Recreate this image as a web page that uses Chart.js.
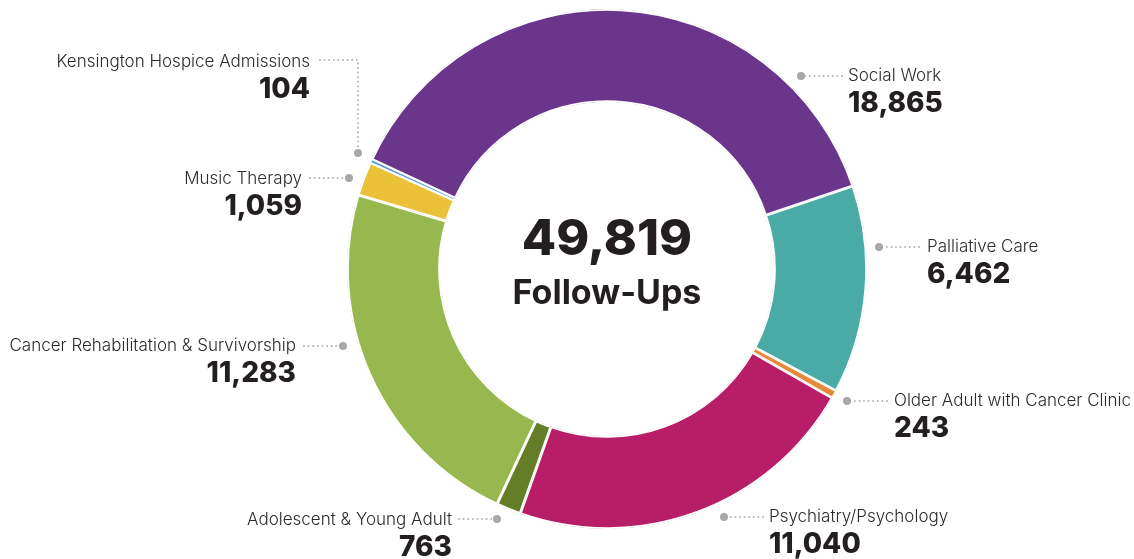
<!DOCTYPE html>
<html lang="en">
<head>
  <meta charset="UTF-8" />
  <title>Follow-Ups by Service</title>
  <script src="https://cdn.jsdelivr.net/npm/chart.js"></script>
  <style>
    body { margin: 0; background: #fff; }
    #wrap { width: 1134px; height: 559px; }
  </style>
</head>
<body>
  <div id="wrap"><canvas id="followChart" width="1134" height="559"></canvas></div>

  <script>
    // data
    const categories = [
      'Social Work',
      'Palliative Care',
      'Older Adult with Cancer Clinic',
      'Psychiatry/Psychology',
      'Adolescent & Young Adult',
      'Cancer Rehabilitation & Survivorship',
      'Music Therapy',
      'Kensington Hospice Admissions'
    ];
    const followUps = [18865, 6462, 243, 11040, 763, 11283, 1059, 104];
    const centerCaption = 'Follow-Ups';

    const sliceColors = ['#6a368c', '#4aaba6', '#e5893a', '#b81d68', '#647d27', '#97b74f', '#ebc13a', '#5b9bd5'];
    // the tiny hospice slice gets a thinner edge so it stays visible
    const sliceBorders = [1.5, 1.5, 1.2, 1.5, 1.5, 1.5, 1.5, 0.8];

    // callout placement: connector path (ends at the dot), text anchor + side
    const callouts = [
      { path: [[842, 76], [801, 76]], x: 848, y: 81, align: 'left' },
      { path: [[919, 247], [879, 247]], x: 927, y: 252, align: 'left' },
      { path: [[887, 401], [847, 401]], x: 894, y: 406, align: 'left' },
      { path: [[763, 517], [724, 517]], x: 769, y: 522, align: 'left' },
      { path: [[459, 519], [497, 519]], x: 452, y: 525, align: 'right' },
      { path: [[304, 346], [343, 346]], x: 296, y: 351, align: 'right' },
      { path: [[310, 178], [349, 178]], x: 302, y: 184, align: 'right' },
      { path: [[320, 60], [358, 60], [358, 153]], x: 310, y: 67, align: 'right' }
    ];

    const fmt = n => n.toLocaleString('en-US');

    const calloutPlugin = {
      id: 'callouts',
      afterDraw(chart) {
        const ctx = chart.ctx;
        ctx.save();
        callouts.forEach((c, i) => {
          // dotted leader
          ctx.beginPath();
          ctx.setLineDash([0, 4.6]);
          ctx.lineCap = 'round';
          ctx.lineWidth = 2;
          ctx.strokeStyle = '#b3b3b6';
          c.path.forEach((p, j) => j ? ctx.lineTo(p[0], p[1]) : ctx.moveTo(p[0], p[1]));
          ctx.stroke();
          ctx.setLineDash([]);
          const end = c.path[c.path.length - 1];
          ctx.beginPath();
          ctx.arc(end[0], end[1], 4, 0, Math.PI * 2);
          ctx.fillStyle = '#a8a8ab';
          ctx.fill();

          ctx.textAlign = c.align;
          ctx.textBaseline = 'alphabetic';
          ctx.fillStyle = '#2b2b2b';
          ctx.font = '300 17px Inter';
          ctx.fillText(categories[i], c.x, c.y);
          ctx.fillStyle = '#231f20';
          ctx.font = '800 28px Inter';
          ctx.fillText(fmt(followUps[i]), c.x, c.y + 31);
        });

        // total in the hole
        const arc = chart.getDatasetMeta(0).data[0];
        const total = followUps.reduce((a, b) => a + b, 0);
        ctx.textAlign = 'center';
        ctx.fillStyle = '#231f20';
        ctx.font = '800 50px Inter';
        ctx.fillText(fmt(total), arc.x, 255);
        ctx.font = '700 34px Inter';
        ctx.fillText(centerCaption, arc.x, 304);
        ctx.restore();
      }
    };

    new Chart(document.getElementById('followChart'), {
      type: 'doughnut',
      data: {
        labels: categories,
        datasets: [{
          data: followUps,
          backgroundColor: sliceColors,
          borderColor: '#ffffff',
          borderWidth: sliceBorders,
          borderAlign: 'inner'
        }]
      },
      options: {
        responsive: false,
        animation: false,
        rotation: -65,
        radius: 260,
        cutout: 167,
        layout: { padding: { left: 347, right: 267, top: 9, bottom: 30 } },
        plugins: {
          legend: { display: false },
          tooltip: { enabled: false }
        }
      },
      plugins: [calloutPlugin]
    });
  </script>
</body>
</html>
